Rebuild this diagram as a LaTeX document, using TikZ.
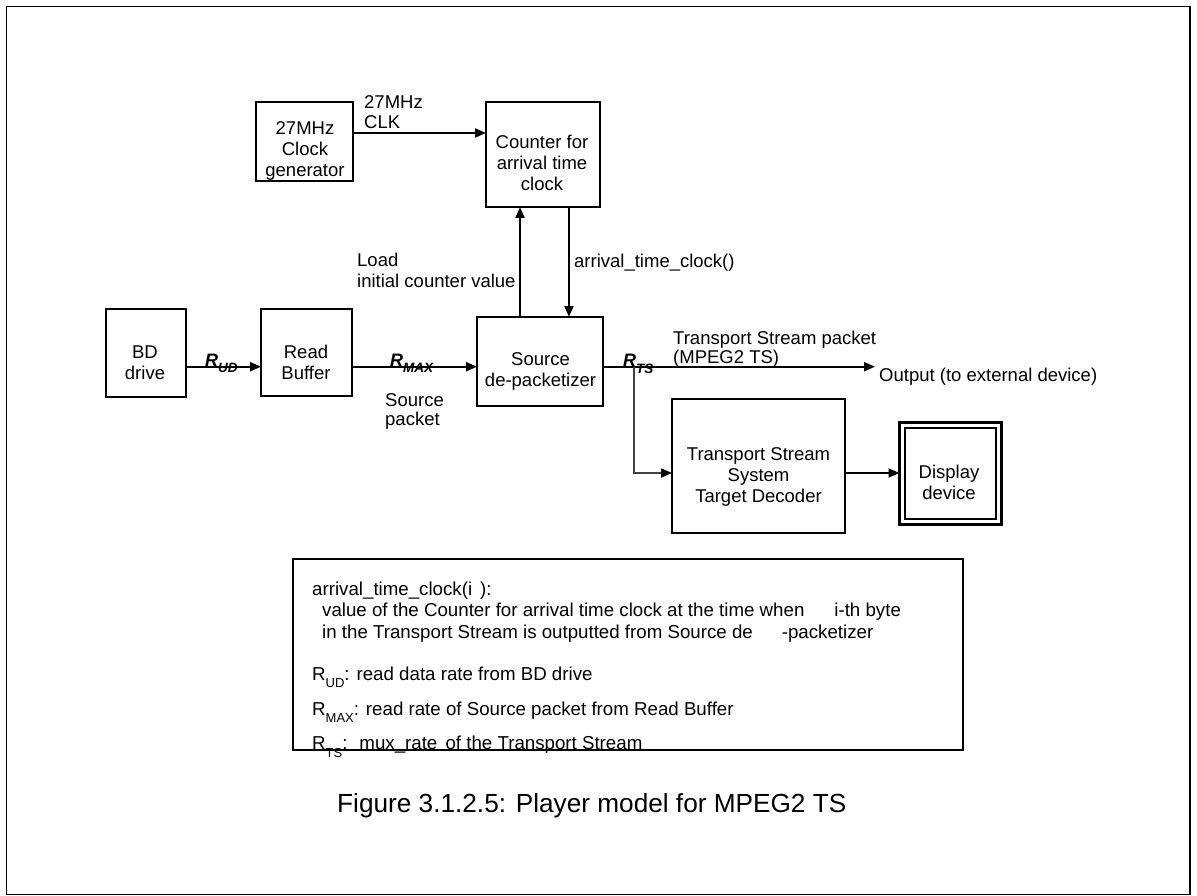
\documentclass[tikz,border=0pt]{standalone}
\usepackage{fontspec}
\setmainfont{Liberation Sans}
\usetikzlibrary{arrows.meta}
\begin{document}
\begin{tikzpicture}[x=1pt,y=-1pt,
  box/.style={draw,line width=1.2pt,inner sep=0pt,outer sep=0pt},
  txt/.style={inner sep=0pt,align=center,font=\fontsize{18.5}{21}\selectfont},
  ltxt/.style={inner sep=0pt,anchor=base west,font=\fontsize{18.5}{21}\selectfont},
  lg/.style={inner sep=0pt,anchor=base west,font=\fontsize{18.7}{21}\selectfont},
  rlab/.style={inner sep=0pt,anchor=base west,font=\fontsize{18}{21}\selectfont\bfseries\itshape},
  arr/.style={line width=2pt,-{Triangle[length=11pt,width=9pt]}},
  arrgray/.style={line width=1.6pt,draw=black!75,-{Triangle[length=11pt,width=9pt,color=black]}},
]
\useasboundingbox (0,0) rectangle (1197,896);
\draw[line width=1.5pt] (6.5,6.5) rectangle (1190,894.5);

% boxes
\node[box,minimum width=97pt,minimum height=79pt] (clk) at (304.5,141.5) {};
\node[box,minimum width=114pt,minimum height=105pt] (counter) at (543,154.5) {};
\node[box,minimum width=80pt,minimum height=88pt] (bd) at (146,353) {};
\node[box,minimum width=91pt,minimum height=87pt] (rb) at (306.5,352.5) {};
\node[box,minimum width=126pt,minimum height=89pt] (depack) at (540,361.5) {};
\node[box,minimum width=173pt,minimum height=134pt] (tsd) at (758.5,466) {};
\node[draw,line width=3pt,inner sep=0pt,outer sep=0pt,minimum width=102pt,minimum height=102pt] (disp) at (950.5,473.5) {};
\draw[line width=1.6pt] ([shift={(5.5,5.5)}]disp.north west) rectangle ([shift={(-5.5,-5.5)}]disp.south east);
\node[box,minimum width=670pt,minimum height=191pt] (legend) at (628,654.5) {};

% box texts
\node[txt] (clkT) at (305,151.3) {27MHz\\Clock\\generator};
\node[txt] (counterT) at (542,163) {Counter for\\arrival time\\clock};
\node[txt] (bdT) at (145,362.7) {BD\\drive};
\node[txt] (rbT) at (306,362.2) {Read\\Buffer};
\node[txt] (depackT) at (540.5,371.8) {Source\\de-packetizer};
\node[txt] (tsdT) at (758.5,476.8) {Transport Stream\\System\\Target Decoder};
\node[txt] (dispT) at (949,482.7) {Display\\device};

% helper coordinates
\coordinate (yclk) at (0,133);
\coordinate (ymain) at (0,366.7);
\coordinate (ydec) at (0,473);
\coordinate (xup) at (520,0);
\coordinate (xdn) at (569,0);
\coordinate (br) at (634,366.7);
\coordinate (outEnd) at (875,366.7);

% connectors
\draw[arr] (clk.east |- yclk) -- (counter.west |- yclk);
\draw[arr] (depack.north -| xup) -- (counter.south -| xup);
\draw[arr] (counter.south -| xdn) -- (depack.north -| xdn);
\draw[arr] (bd.east |- ymain) -- (rb.west |- ymain);
\draw[arr] (rb.east |- ymain) -- (depack.west |- ymain);
\draw[arr] (depack.east |- ymain) -- (outEnd);
\draw[arrgray] (br) |- (tsd.west |- ydec);
\draw[arr] (tsd.east |- ydec) -- (disp.west |- ydec);

% connector labels
\node[ltxt] (clkA) at (364,109) {27MHz};
\node[ltxt] (clkB) at (364,129) {CLK};
\node[ltxt] (ld1) at (357,266) {Load};
\node[ltxt] (ld2) at (357,287.7) {initial counter value};
\node[ltxt] (atc) at (574,267.3) {arrival\_time\_clock()};
\node[ltxt] (sp1) at (385,406) {Source};
\node[ltxt] (sp2) at (385,425) {packet};
\node[ltxt] (tsp1) at (673,344) {Transport Stream packet};
\node[ltxt] (tsp2) at (673,363.3) {(MPEG2 TS)};
\node[ltxt] (outT) at (879,381.7) {Output (to external device)};
\node[rlab] (rud) at (205,366) {R\raisebox{-6.7pt}{\fontsize{13.5}{14}\selectfont UD}};
\node[rlab] (rmax) at (390,366) {R\raisebox{-6.7pt}{\fontsize{13.5}{14}\selectfont MAX}};
\node[rlab] (rts) at (623,366) {R\raisebox{-7.5pt}{\fontsize{13.5}{14}\selectfont TS}};

% legend text
\node[lg] (lg1) at (312,595) {arrival\_time\_clock(i\hspace{8pt}):};
\node[lg] (lg2) at (322,616.7) {value of the Counter for arrival time clock at the time when\hspace{30pt}i-th byte};
\node[lg] (lg3) at (322,638) {in the Transport Stream is outputted from Source de\hspace{29pt}-packetizer};
\node[lg] (lg4) at (312,680) {R\raisebox{-7pt}{\fontsize{13}{14}\selectfont UD}: read data rate from BD drive};
\node[lg] (lg5) at (312,715) {R\raisebox{-7pt}{\fontsize{13}{14}\selectfont MAX}: read rate of Source packet from Read Buffer};
\node[lg] (lg6) at (312,749) {R\raisebox{-8pt}{\fontsize{13}{14}\selectfont TS}:\hspace{5pt} mux\_rate\hspace{3pt} of the Transport Stream};

% caption
\node[inner sep=0pt,anchor=base west,font=\fontsize{26.2}{30}\selectfont] (cap) at (337,812) {Figure 3.1.2.5: Player model for MPEG2 TS};
\end{tikzpicture}
\end{document}
